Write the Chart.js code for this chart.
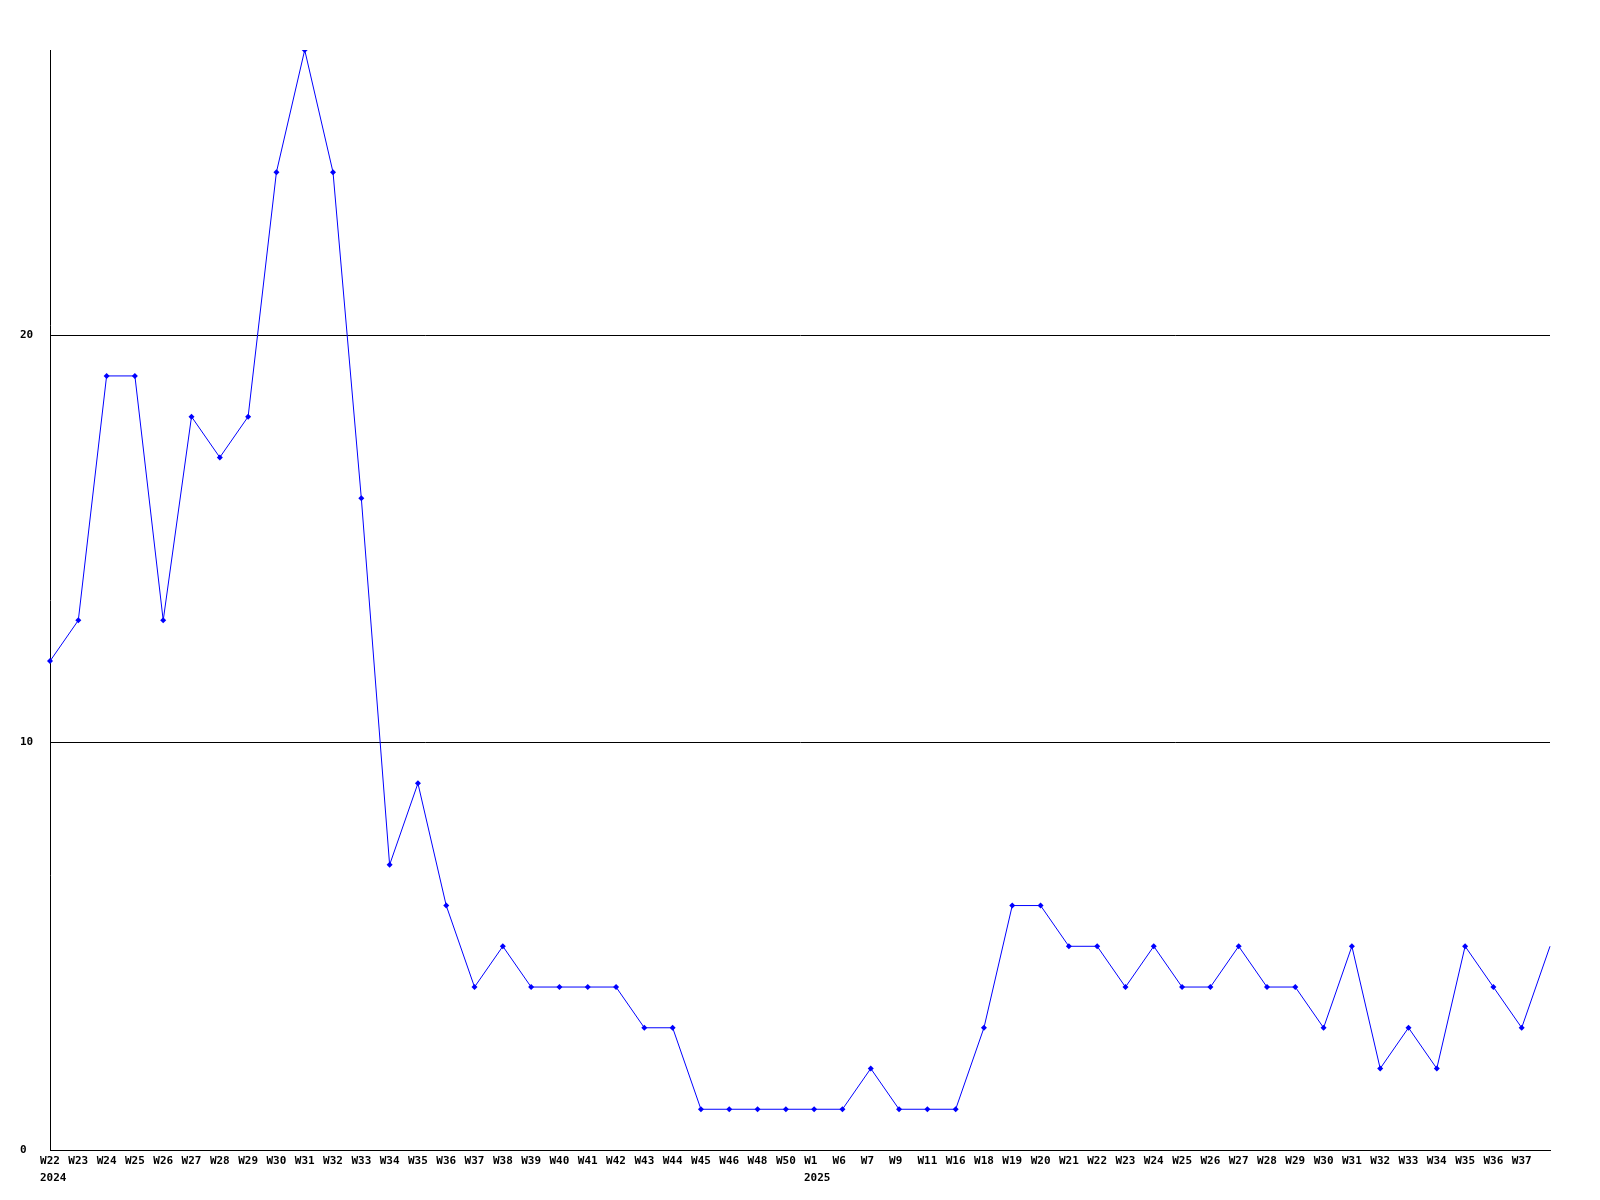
<!DOCTYPE html>
<html>
<head>
<meta charset="utf-8">
<script src="https://cdn.jsdelivr.net/npm/chart.js@4"></script>
<style>
  html, body { margin: 0; padding: 0; background: #ffffff; }
  #wrap { width: 1600px; height: 1200px; }
</style>
</head>
<body>
<div id="wrap"><canvas id="weeklyChart" width="1600" height="1200"></canvas></div>
<script>
// Weekly counts, W22 2024 .. W37 2025 (last point has no label)
const weekLabels = [
  'W22', 'W23', 'W24', 'W25', 'W26', 'W27', 'W28', 'W29', 'W30', 'W31', 'W32', 'W33', 'W34', 'W35', 'W36', 'W37',
  'W38', 'W39', 'W40', 'W41', 'W42', 'W43', 'W44', 'W45', 'W46', 'W48', 'W50',
  'W1', 'W6', 'W7', 'W9', 'W11', 'W16', 'W18',
  'W19', 'W20', 'W21', 'W22', 'W23', 'W24', 'W25', 'W26', 'W27', 'W28', 'W29', 'W30', 'W31', 'W32', 'W33', 'W34', 'W35', 'W36', 'W37',
  ''
];

const weekCounts = [
  12, 13, 19, 19, 13, 18, 17, 18, 24, 27, 24, 16, 7, 9, 6, 4,
  5, 4, 4, 4, 4, 3, 3, 1, 1, 1, 1,
  1, 1, 2, 1, 1, 1, 3,
  6, 6, 5, 5, 4, 5, 4, 4, 5, 4, 4, 3, 5, 2, 3, 2, 5, 4, 3,
  5
];

// year captions shown under the first week of each year
const yearMarks = [
  { index: 0, text: '2024' },
  { index: 27, text: '2025' }
];

const yTicks = [0, 10, 20];
const yMax = 27;

const tickFont = { family: 'DejaVu Sans Mono', size: 11, weight: 'bold' };

// week labels are padded to 3 chars so they all start 10px left of the tick
function padLabel(s) {
  return s === '' ? '' : s.padEnd(3, ' ');
}

// draws the year line under the week labels, left-aligned to the label
const yearLabelPlugin = {
  id: 'yearLabels',
  afterDraw(chart) {
    const ctx = chart.ctx;
    const xScale = chart.scales.x;
    ctx.save();
    ctx.font = 'bold 11px "DejaVu Sans Mono"';
    ctx.fillStyle = '#000000';
    ctx.textBaseline = 'top';
    ctx.textAlign = 'left';
    yearMarks.forEach(function(mark) {
      const x = xScale.getPixelForValue(mark.index);
      const w = ctx.measureText(padLabel(weekLabels[mark.index])).width;
      ctx.fillText(mark.text, Math.round(x - w / 2), xScale.top + 23);
    });
    ctx.restore();
  }
};

new Chart(document.getElementById('weeklyChart'), {
  type: 'line',
  data: {
    labels: weekLabels,
    datasets: [{
      data: weekCounts,
      borderColor: '#0000ff',
      backgroundColor: '#0000ff',
      borderWidth: 1,
      pointStyle: 'rectRot',
      pointRadius: weekCounts.map((v, i) => (i === weekCounts.length - 1 ? 0 : 3)),
      pointBorderWidth: 0,
      tension: 0,
      fill: false
    }]
  },
  options: {
    responsive: false,
    animation: false,
    devicePixelRatio: 1,
    layout: {
      padding: { left: 20, right: 50, top: 50, bottom: 0 }
    },
    plugins: {
      legend: { display: false },
      tooltip: { enabled: false }
    },
    scales: {
      x: {
        type: 'category',
        offset: false,
        afterFit: function(scale) { scale.height = 50; },
        grid: { display: false, drawTicks: false },
        border: { display: true, color: '#000000', width: 1 },
        ticks: {
          autoSkip: false,
          maxRotation: 0,
          minRotation: 0,
          padding: 5,
          color: '#000000',
          font: tickFont,
          callback: function(value) {
            return padLabel(weekLabels[value]);
          }
        }
      },
      y: {
        min: 0,
        max: yMax,
        afterFit: function(scale) { scale.width = 30; },
        afterBuildTicks: function(scale) {
          scale.ticks = yTicks.map(v => ({ value: v }));
        },
        grid: {
          drawTicks: false,
          color: '#000000',
          lineWidth: 1
        },
        border: { display: true, color: '#000000', width: 1 },
        ticks: {
          crossAlign: 'far',
          padding: 0,
          color: '#000000',
          font: tickFont
        }
      }
    }
  },
  plugins: [yearLabelPlugin]
});
</script>
</body>
</html>
